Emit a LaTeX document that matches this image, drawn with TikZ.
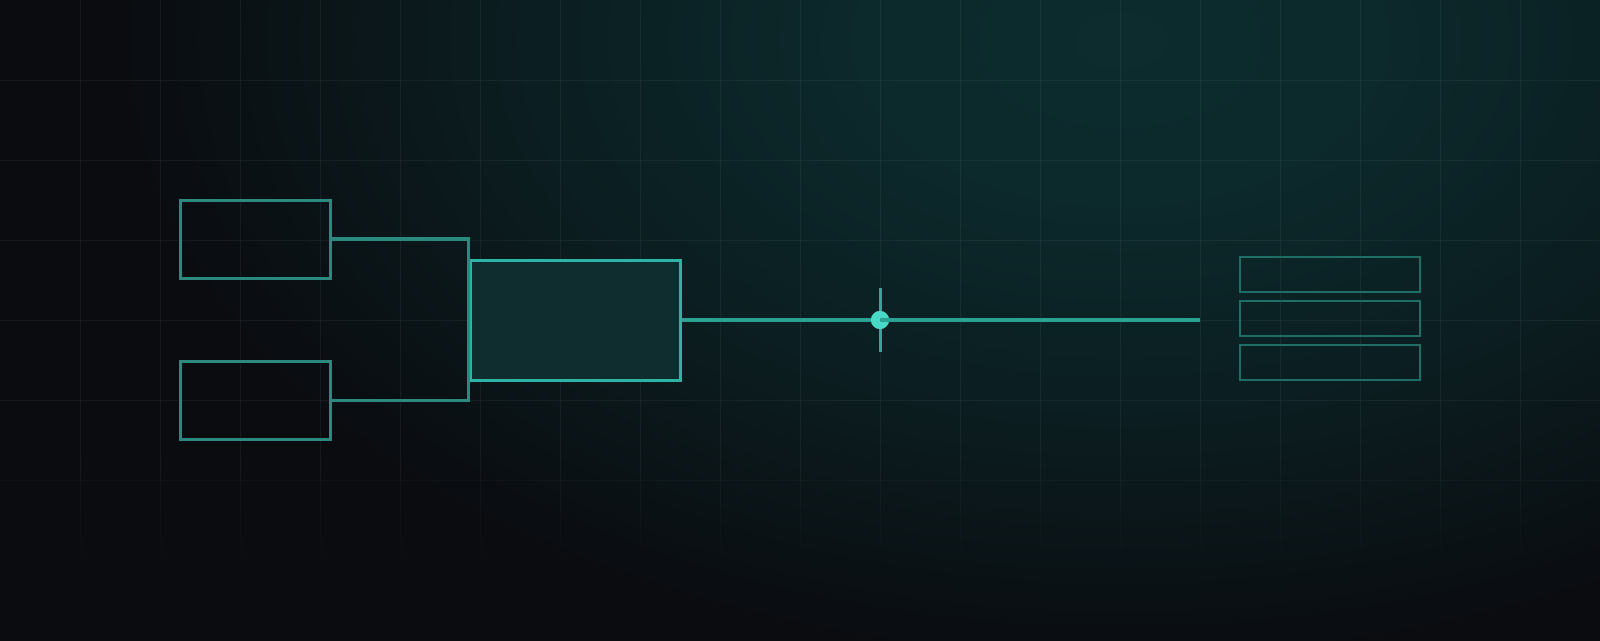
\documentclass[tikz,border=0pt]{standalone}
\definecolor{bgc}{HTML}{0A0C10}
\definecolor{glowc}{HTML}{0C2C2E}
\definecolor{smallc}{HTML}{2A8A80}
\definecolor{mainc}{HTML}{2CB5A5}
\definecolor{mainfill}{HTML}{0F2C2E}
\definecolor{linec}{HTML}{29A294}
\definecolor{dotc}{HTML}{48DAC6}
\definecolor{rightc}{HTML}{1F6E66}
\pgfdeclareradialshading{glowshade}{\pgfpoint{0bp}{0bp}}{color(0bp)=(glowc); color(4bp)=(glowc!92!bgc); color(10bp)=(glowc!55!bgc); color(16.7bp)=(bgc); color(50bp)=(bgc)}
\tikzset{
  smallbox/.style={draw=smallc, line width=3pt, inner sep=0pt, minimum width=150pt, minimum height=78pt},
  mainbox/.style={draw=mainc, fill=mainfill, line width=3pt, inner sep=0pt, minimum width=210pt, minimum height=120pt},
  rightbox/.style={draw=rightc, line width=2pt, inner sep=0pt, minimum width=180pt, minimum height=35pt},
  bracketline/.style={draw=smallc, line width=3.5pt, line join=miter},
  mainline/.style={draw=linec, line width=4pt},
  tickline/.style={draw=linec!85!dotc, line width=3pt},
  dotnode/.style={circle, fill=dotc, inner sep=0pt, minimum size=18pt},
  gridline/.style={draw=white, line width=1pt},
}
\begin{document}
\begin{tikzpicture}[x=1pt,y=-1pt]
\useasboundingbox (0,0) rectangle (1600,640);
% background
\fill[bgc] (0,0) rectangle (1600,640);
\begin{scope}
  \clip (0,0) rectangle (1600,640);
  \shade[shading=glowshade] (1120,40) ellipse (1500 and 930);
\end{scope}
% grid
\foreach \gx in {80,160,...,1520} {
  \draw[gridline, opacity=0.05] (\gx,0) -- (\gx,440);
  \foreach \k in {0,...,12} {
    \pgfmathsetmacro{\op}{0.05*(1-\k/13)}
    \draw[gridline, opacity=\op] (\gx,440+10*\k) -- (\gx,450+10*\k);
  }
}
\foreach \gy in {80,160,...,400} {
  \draw[gridline, opacity=0.05] (0,\gy) -- (1600,\gy);
}
\draw[gridline, opacity=0.025] (0,480) -- (1600,480);
% nodes
\node[smallbox] (b1) at (255,239) {};
\node[smallbox] (b2) at (255,400.5) {};
\node[mainbox] (m) at (575,320) {};
\node[rightbox] (r1) at (1330,274.5) {};
\node[rightbox] (r2) at (1330,318.5) {};
\node[rightbox] (r3) at (1330,362.5) {};
\coordinate (lineend) at (1200,320);
\coordinate (ticktop) at (880,288);
\coordinate (tickbot) at (880,352);
% bracket
\draw[bracketline] (b1.east) -- (b1.east -| m.west) -- (b2.east -| m.west) -- (b2.east);
% main line with marker
\node[dotnode] (dot) at (880,320) {};
\draw[mainline] (m.east) -- (dot.west);
\draw[tickline] (ticktop) -- (tickbot);
\node[dotnode] at (dot.center) {};
\draw[mainline] (dot.center) -- (lineend);
\end{tikzpicture}
\end{document}
